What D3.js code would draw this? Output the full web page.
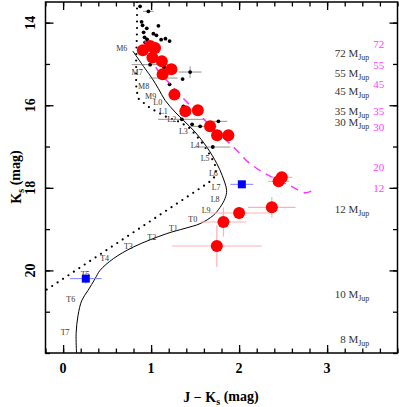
<!DOCTYPE html>
<html>
<head>
<meta charset="utf-8">
<script src="https://cdn.jsdelivr.net/npm/d3@7"></script>
<style>
  body { margin: 0; background: #fff; }
  svg { display: block; }
  text { font-family: "Liberation Serif", "DejaVu Serif", serif; }
</style>
</head>
<body>
<div id="container"></div>
<script>
var width = 399,
    height = 407;

// field objects (small black dots)
var fieldJK    = [0.875, 0.969, 0.892, 0.903, 0.951, 1.083, 0.915, 1.026, 1.06, 0.926, 0.955, 1.114, 1.163, 1.21, 0.932, 0.989, 1.148, 1.14, 1.443, 1.358, 1.21, 1.367, 1.349, 1.557, 1.765, 1.701, 1.466];
var fieldK     = [13.605, 13.726, 13.981, 14.065, 14.138, 14.077, 14.235, 14.266, 14.308, 14.356, 14.404, 14.412, 14.387, 14.446, 14.477, 15.017, 15.083, 15.341, 15.196, 15.366, 15.494, 16.027, 16.341, 16.511, 16.39, 17.012, 16.462];
var fieldJKerr = [0, 0.06, 0, 0, 0, 0, 0, 0, 0, 0, 0, 0, 0, 0, 0, 0.21, 0, 0.16, 0.13, 0, 0, 0, 0.27, 0.11, 0.1, 0.2, 0];
var fieldKerr  = [0, 0, 0, 0, 0, 0, 0, 0, 0, 0, 0, 0, 0, 0, 0, 0, 0, 0, 0.14, 0, 0, 0, 0, 0, 0, 0, 0];

// cluster members (red circles)
var redJK    = [0.906, 0.989, 1.045, 1.015, 1.122, 1.231, 1.131, 1.265, 1.389, 1.531, 1.67, 1.75, 1.878, 2.485, 2.449, 2.372, 2.0, 1.822, 1.747];
var redK     = [14.671, 14.567, 14.615, 14.847, 14.937, 15.131, 15.252, 15.743, 16.148, 16.123, 16.511, 16.729, 16.729, 17.746, 17.843, 18.472, 18.61, 18.828, 19.409];
var redJKerr = [0, 0, 0, 0, 0, 0, 0, 0, 0, 0, 0, 0, 0, 0.12, 0.12, 0.27, 0.34, 0.26, 0.51];
var redKerr  = [0, 0, 0, 0, 0, 0, 0, 0, 0, 0, 0, 0, 0, 0.05, 0.05, 0.25, 0.15, 0.35, 0.5];

// blue squares
var blueJK    = [2.031, 0.258];
var blueK     = [17.915, 20.199];
var blueJKerr = [0.13, 0.18];
var blueKerr  = [0.03, 0.12];

// spectral sequence (solid)
var seqJK = [0.792, 0.932, 1.011, 1.083, 1.159, 1.273, 1.367, 1.5, 1.633, 1.747, 1.807, 1.858, 1.841, 1.784, 1.708, 1.557, 1.386, 1.178, 0.799, 0.572, 0.42, 0.364, 0.284, 0.213, 0.17, 0.148, 0.153];
var seqK  = [14.688, 15.114, 15.349, 15.598, 15.881, 16.165, 16.366, 16.649, 17.012, 17.414, 17.697, 18.061, 18.254, 18.472, 18.666, 18.867, 18.981, 19.109, 19.433, 19.714, 19.998, 20.199, 20.482, 20.724, 21.087, 21.53, 22.0];

// second sequence (dotted)
var dotJK = [0.84, 0.84, 0.83, 0.83, 0.85, 0.99, 1.16, 1.33, 1.44, 1.53, 1.60, 1.67, 1.72, 1.74, 1.72, 1.65, -0.19];
var dotK  = [13.5, 14.19, 14.91, 15.52, 15.83, 16.07, 16.27, 16.41, 16.56, 16.78, 16.97, 17.21, 17.40, 17.57, 17.74, 17.88, 20.47];

// spectral type labels
var spTypes = ["M6", "M7", "M8", "M9", "L0", "L1", "L2", "L3", "L4", "L5", "L6", "L7", "L8", "L9", "T0", "T1", "T2", "T3", "T4", "T5", "T6", "T7"];
var spJK    = [0.667, 0.841, 0.915, 0.995, 1.075, 1.14, 1.235, 1.367, 1.5, 1.614, 1.708, 1.739, 1.727, 1.625, 1.474, 1.253, 1.008, 0.742, 0.472, 0.25, 0.0875, 0.023];
var spK     = [14.63, 15.203, 15.53, 15.77, 15.93, 16.14, 16.341, 16.632, 16.971, 17.293, 17.642, 17.981, 18.286, 18.545, 18.77, 18.988, 19.191, 19.416, 19.695, 20.094, 20.70, 21.49];

// isochrone (magenta dashed)
var isoJK = [0.93, 1.06, 1.2, 1.35, 1.5, 1.7, 1.95, 2.1, 2.26, 2.45, 2.6, 2.75, 2.82];
var isoK  = [14.45, 15.1, 15.45, 15.8, 16.12, 16.55, 17.04, 17.37, 17.61, 17.82, 17.97, 18.12, 18.08];

// mass labels
var massBlack  = ["72", "55", "45", "35", "30", "12", "10", "8"];
var massBlackK = [14.75, 15.235, 15.68, 16.165, 16.43, 18.53, 20.585, 21.675];
var massPink   = ["72", "55", "45", "35", "30", "20", "12"];
var massPinkK  = [14.51, 15.03, 15.48, 16.15, 16.53, 17.5, 18.02];

var xTicks = [0, 1, 2, 3],
    yTicks = [14, 16, 18, 20];

var x = d3.scaleLinear().domain([-0.2, 3.8]).range([45.5, 397.5]);
var y = d3.scaleLinear().domain([13.5, 22]).range([2, 353]);

var svg = d3.select("#container")
            .append("svg")
            .attr("width", width)
            .attr("height", height);

svg.append("defs").append("clipPath").attr("id", "clip")
   .append("rect")
   .attr("x", x(-0.2)).attr("y", y(13.5))
   .attr("width", x(3.8) - x(-0.2)).attr("height", y(22) - y(13.5));

var plot = svg.append("g").attr("clip-path", "url(#clip)");

var line = d3.line()
    .x(function(d) { return x(d[0]); })
    .y(function(d) { return y(d[1]); });

// dotted sequence
plot.append("path")
    .datum(d3.zip(dotJK, dotK))
    .attr("d", line)
    .attr("fill", "none")
    .attr("stroke", "#000")
    .attr("stroke-width", 2.2)
    .attr("stroke-linecap", "round")
    .attr("stroke-dasharray", "0 6.5");

// solid sequence
plot.append("path")
    .datum(d3.zip(seqJK, seqK))
    .attr("d", line.curve(d3.curveCatmullRom))
    .attr("fill", "none")
    .attr("stroke", "#000")
    .attr("stroke-width", 1);

line.curve(d3.curveLinear);

// spectral type labels
plot.selectAll(".sp")
    .data(d3.range(spTypes.length))
    .enter().append("text")
    .attr("class", "sp")
    .attr("x", function(i) { return x(spJK[i]); })
    .attr("y", function(i) { return y(spK[i]); })
    .attr("dy", "0.35em")
    .attr("text-anchor", "middle")
    .style("font-size", "8px")
    .style("fill", "#333")
    .text(function(i) { return spTypes[i]; });

// error bars helper
function errbars(g, xs, ys, xe, ye, color, w) {
  var idx = d3.range(xs.length);
  g.selectAll(null).data(idx.filter(function(i) { return xe[i] > 0; }))
    .enter().append("line")
    .attr("x1", function(i) { return x(xs[i] - xe[i]); })
    .attr("x2", function(i) { return x(xs[i] + xe[i]); })
    .attr("y1", function(i) { return y(ys[i]); })
    .attr("y2", function(i) { return y(ys[i]); })
    .attr("stroke", color).attr("stroke-width", w);
  g.selectAll(null).data(idx.filter(function(i) { return ye[i] > 0; }))
    .enter().append("line")
    .attr("x1", function(i) { return x(xs[i]); })
    .attr("x2", function(i) { return x(xs[i]); })
    .attr("y1", function(i) { return y(ys[i] - ye[i]); })
    .attr("y2", function(i) { return y(ys[i] + ye[i]); })
    .attr("stroke", color).attr("stroke-width", w);
}

// field objects
errbars(plot, fieldJK, fieldK, fieldJKerr, fieldKerr, "#777", 0.8);
plot.selectAll(".field")
    .data(d3.range(fieldJK.length))
    .enter().append("circle")
    .attr("class", "field")
    .attr("cx", function(i) { return x(fieldJK[i]); })
    .attr("cy", function(i) { return y(fieldK[i]); })
    .attr("r", 1.9)
    .attr("fill", "#000");

// isochrone
plot.append("path")
    .datum(d3.zip(isoJK, isoK))
    .attr("d", line.curve(d3.curveCatmullRom))
    .attr("fill", "none")
    .attr("stroke", "#ff33ff")
    .attr("stroke-width", 1.5)
    .attr("stroke-dasharray", "8 6");

// red members
errbars(plot, redJK, redK, redJKerr, redKerr, "#ffb0b0", 1.2);
plot.selectAll(".red")
    .data(d3.range(redJK.length))
    .enter().append("circle")
    .attr("class", "red")
    .attr("cx", function(i) { return x(redJK[i]); })
    .attr("cy", function(i) { return y(redK[i]); })
    .attr("r", 6)
    .attr("fill", "#ff0000");

// blue squares
errbars(plot, blueJK, blueK, blueJKerr, blueKerr, "#8080ff", 1);
plot.selectAll(".blue")
    .data(d3.range(blueJK.length))
    .enter().append("rect")
    .attr("class", "blue")
    .attr("x", function(i) { return x(blueJK[i]) - 4; })
    .attr("y", function(i) { return y(blueK[i]) - 4; })
    .attr("width", 8).attr("height", 8)
    .attr("fill", "#0000ff");

// mass labels
var mb = svg.selectAll(".mb")
    .data(d3.range(massBlack.length))
    .enter().append("text")
    .attr("class", "mb")
    .attr("x", x(3.48))
    .attr("y", function(i) { return y(massBlackK[i]); })
    .attr("dy", "0.3em")
    .attr("text-anchor", "end")
    .style("font-size", "11px")
    .style("fill", "#333");
mb.append("tspan").style("fill", "#333").text(function(i) { return massBlack[i] + " M"; });
mb.append("tspan").attr("dy", "0.35em").style("font-size", "8px").style("fill", "#333").text("Jup");

svg.selectAll(".mp")
    .data(d3.range(massPink.length))
    .enter().append("text")
    .attr("class", "mp")
    .attr("x", x(3.525))
    .attr("y", function(i) { return y(massPinkK[i]); })
    .attr("dy", "0.35em")
    .style("font-size", "11px")
    .style("fill", "#ff40ff")
    .text(function(i) { return massPink[i]; });

// axes: inward ticks on all four sides
function minor(lo, hi, step) {
  return d3.range(Math.round((hi - lo) / step) + 1).map(function(k) { return +(lo + k * step).toFixed(2); });
}
var xMinor = minor(-0.2, 3.8, 0.2),
    yMinor = minor(14, 22, 1);

function axis(fn, scale, vals, size, tr) {
  svg.append("g")
     .attr("transform", tr)
     .call(fn(scale).tickValues(vals).tickSize(-size).tickFormat(""))
     .call(function(g) { g.select(".domain").remove(); g.selectAll("line").attr("stroke", "#000").attr("stroke-width", 1.3); });
}
axis(d3.axisBottom, x, xMinor, 4.5, "translate(0," + y(22) + ")");
axis(d3.axisBottom, x, xTicks, 8, "translate(0," + y(22) + ")");
axis(d3.axisTop, x, xMinor, 4.5, "translate(0," + y(13.5) + ")");
axis(d3.axisTop, x, xTicks, 8, "translate(0," + y(13.5) + ")");
axis(d3.axisLeft, y, yMinor, 4.5, "translate(" + x(-0.2) + ",0)");
axis(d3.axisLeft, y, yTicks, 8, "translate(" + x(-0.2) + ",0)");
axis(d3.axisRight, y, yMinor, 4.5, "translate(" + x(3.8) + ",0)");
axis(d3.axisRight, y, yTicks, 8, "translate(" + x(3.8) + ",0)");

svg.append("rect")
   .attr("x", x(-0.2)).attr("y", y(13.5))
   .attr("width", x(3.8) - x(-0.2)).attr("height", y(22) - y(13.5))
   .attr("fill", "none")
   .attr("stroke", "#000")
   .attr("stroke-width", 1.5);

// tick labels
svg.selectAll(".xl")
   .data(xTicks)
   .enter().append("text")
   .attr("x", function(d) { return x(d); })
   .attr("y", 373)
   .attr("text-anchor", "middle")
   .style("font-size", "14px")
   .style("font-weight", "bold")
   .text(function(d) { return d; });

svg.selectAll(".yl")
   .data(yTicks)
   .enter().append("text")
   .attr("transform", function(d) { return "translate(35," + y(d) + ") rotate(-90)"; })
   .attr("text-anchor", "middle")
   .style("font-size", "14px")
   .style("font-weight", "bold")
   .text(function(d) { return d; });

// axis titles
var xt = svg.append("text")
   .attr("x", 221).attr("y", 402)
   .attr("text-anchor", "middle")
   .style("font-size", "14px")
   .style("font-weight", "bold");
xt.append("tspan").text("J \u2212 K");
xt.append("tspan").attr("dy", "0.3em").style("font-size", "10px").text("s");
xt.append("tspan").attr("dy", "-0.3em").text(" (mag)");

var yt = svg.append("text")
   .attr("transform", "translate(21,177) rotate(-90)")
   .attr("text-anchor", "middle")
   .style("font-size", "14px")
   .style("font-weight", "bold");
yt.append("tspan").text("K");
yt.append("tspan").attr("dy", "0.3em").style("font-size", "10px").text("s");
yt.append("tspan").attr("dy", "-0.3em").text(" (mag)");
</script>
</body>
</html>
